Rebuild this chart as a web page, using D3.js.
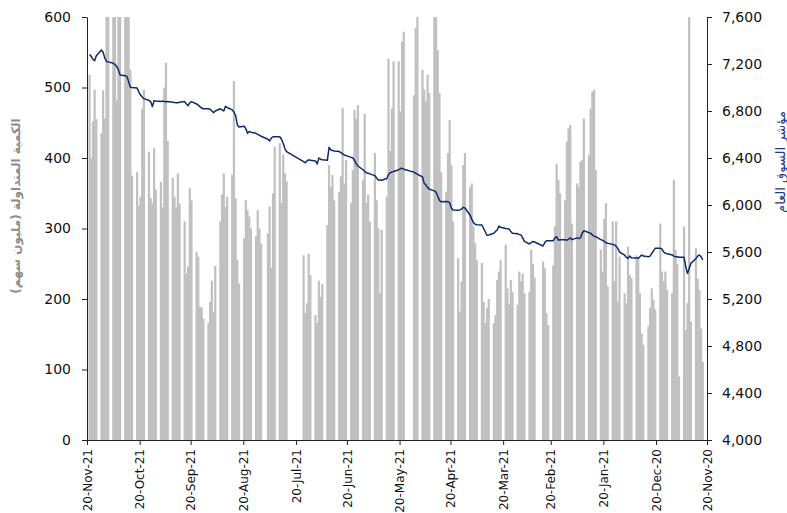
<!DOCTYPE html>
<html><head><meta charset="utf-8">
<script src="https://cdnjs.cloudflare.com/ajax/libs/d3/7.8.5/d3.min.js"></script>
<style>body{margin:0;background:#fff}svg{display:block}</style>
</head><body>
<svg id="chart" width="787" height="513"></svg>
<script>
// ---------- data (newest session first, as drawn left to right) ----------
// Trading weeks run Sun-Thu; each group of five is Thu, Wed, Tue, Mon, Sun. null = market holiday.
const lastSession = "18-Nov-21";
const tickLabels = ["20-Nov-21","20-Oct-21","20-Sep-21","20-Aug-21","20-Jul-21","20-Jun-21","20-May-21",
  "20-Apr-21","20-Mar-21","20-Feb-21","20-Jan-21","20-Dec-20","20-Nov-20"];
const volumeTicks = [0,100,200,300,400,500,600];
const indexTicks = [4000,4400,4800,5200,5600,6000,6400,6800,7200,7600];
const volumeTitle = "الكمية المتداولة (مليون سهم)";
const indexTitle = "مؤشر السوق العام";

const volume = [
  518,400,452,497,455, 435,496,456,640,620, 650,620,482,700,660, 650,640,610,525,375,
  380,332,345,470,497, 409,343,336,414,355, 366,330,500,535,424, 372,345,330,378,335,
  310,236,246,357,340, 267,260,189,188,172, 166,196,226,182,247, 310,348,378,331,345,
  376,509,343,256,222, 286,340,326,317,300, 289,326,300,279,null, 293,331,244,350,416,
  421,336,405,378,367, null,null,null,null,null, 262,180,194,264,234, 177,166,226,203,221,
  305,390,359,376,340, 352,374,471,364,397, 336,383,468,456,475, 369,463,336,348,310,
  407,340,300,208,298, 345,541,410,470,537, 537,466,565,579,null, null,null,489,584,600,
  525,497,480,518,492, 620,605,553,492,380, 352,407,454,390,310, 258,182,225,390,407,
  359,364,303,279,255, 251,196,166,187,200, 166,177,227,239,255, 277,215,192,227,210,
  192,239,225,236,208, 210,270,250,230,null, null,253,244,180,163, 248,303,392,369,350,
  340,423,442,447,307, 364,359,395,397,456, 404,470,494,497,383, 270,239,314,336,218,
  310,225,310,196,260, 208,194,274,234,230, 262,258,208,151,135, 161,187,215,199,185,
  307,239,225,239,213, 208,369,270,250,90, 303,156,194,650,168, 272,229,213,158,111
];

const indexValues = [
  7280,7265,7240,7228,7270, 7319,7300,7250,7222,7218, 7206,7195,7180,7150,7107, 7100,7095,7050,7002,7000,
  6995,6960,6936,6920,6905, 6890,6880,6837,6888,6885, 6880,6885,6880,6878,6880, 6875,6872,6870,6871,6875,
  6880,6860,6845,6870,6880, 6860,6850,6837,6825,6819, 6819,6815,6800,6786,6800, 6819,6810,6800,6840,6830,
  6810,6790,6760,6681,6664, 6670,6650,6610,6625,6620, 6610,6600,6595,6585,null, 6560,6545,6570,6581,6580,
  6581,6560,6525,6480,6454, null,null,null,null,null, 6370,6360,6375,6385,6380, 6375,6349,6400,6390,6385,
  6380,6491,6470,6463,6460, 6455,6445,6435,6425,6420, 6405,6400,6380,6350,6332, 6300,6285,6275,6270,6265,
  6250,6230,6213,6213,6210, 6225,6260,6275,6280,6285, 6300,6310,6312,6305,null, null,null,6280,6270,6262,
  6240,6185,6170,6150,6135, 6120,6110,6075,6040,6028, 6030,6028,6020,5975,5958, 5955,5958,5965,5980,5975,
  5915,5880,5850,5836,5832, 5830,5800,5770,5742,5745, 5760,5775,5787,5821,5810, 5800,5798,5795,5775,5759,
  5755,5748,5745,5720,5690, 5668,5680,5690,5685,null, null,5651,5680,5696,5695, 5696,5720,5730,5700,5705,
  5705,5700,5710,5720,5705, 5720,5715,5720,5760,5781, 5765,5760,5745,5735,5730, 5705,5700,5690,5680,5674,
  5665,5660,5650,5631,5600, 5574,5555,5546,5566,5550, 5548,5546,5560,5575,5565, 5560,5565,5589,5610,5631,
  5631,5625,5600,5589,5585, 5575,5565,5560,5560,5555, 5555,5475,5418,5460,5503, 5545,5565,5575,5560,5532
];

// ---------- build ----------
const parse = d3.timeParse("%d-%b-%y");
const last = parse(lastSession);
const rows = volume.map((v, i) => ({
  date: d3.timeDay.offset(last, -(7 * Math.floor(i / 5) + (i % 5))),
  vol: v, idx: indexValues[i]
}));
const tickDates = tickLabels.map(parse);

const L = 87, R = 707, T = 17, B = 440;
const FONT = "DejaVu Sans, Verdana, sans-serif";
const svg = d3.select("#chart");

const x = d3.scaleTime().domain([tickDates[0], tickDates[tickDates.length - 1]]).range([L, R]);
const yV = d3.scaleLinear().domain([0, 600]).range([B, T]);
const yI = d3.scaleLinear().domain([4000, 7600]).range([B, T]);
const dayW = Math.abs(x(d3.timeDay.offset(tickDates[0], -1)) - x(tickDates[0]));
const barW = dayW * 1.3;
const cx = d => x(d3.timeHour.offset(d, 12));

svg.append("defs").append("clipPath").attr("id", "plot")
  .append("rect").attr("x", L).attr("y", T).attr("width", R - L).attr("height", B - T);

svg.append("g").attr("clip-path", "url(#plot)")
  .selectAll("rect").data(rows.filter(r => r.vol != null)).join("rect")
  .attr("x", r => cx(r.date) - barW / 2)
  .attr("width", barW)
  .attr("y", r => yV(r.vol))
  .attr("height", r => B - yV(r.vol))
  .attr("fill", "#c0c0c0");

const line = d3.line().x(r => cx(r.date)).y(r => yI(r.idx));
svg.append("path").datum(rows.filter(r => r.idx != null))
  .attr("d", line).attr("fill", "none")
  .attr("stroke", "#0e2a6e").attr("stroke-width", 1.5).attr("stroke-linejoin", "round");

// axes
const axL = svg.append("g").attr("transform", `translate(${L},0)`)
  .call(d3.axisLeft(yV).tickValues(volumeTicks).tickSize(5).tickSizeOuter(0).tickPadding(11));
const axR = svg.append("g").attr("transform", `translate(${R},0)`)
  .call(d3.axisRight(yI).tickValues(indexTicks).tickFormat(d3.format(",")).tickSize(5).tickSizeOuter(0).tickPadding(10));
const axB = svg.append("g").attr("transform", `translate(0,${B})`)
  .call(d3.axisBottom(x).tickValues(tickDates).tickFormat((d, i) => tickLabels[i]).tickSize(5).tickSizeOuter(0));

[axL, axR, axB].forEach(g => {
  g.select(".domain").attr("stroke", "#222");
  g.selectAll(".tick line").attr("stroke", "#222");
  g.selectAll("text").attr("fill", "#111").attr("font-family", FONT);
});
axL.selectAll("text").attr("font-size", 14);
axR.selectAll("text").attr("font-size", 14);
axB.selectAll("text").attr("font-size", 12)
  .attr("transform", "rotate(-90)").attr("text-anchor", "end")
  .attr("x", -9).attr("y", 0).attr("dy", "0.35em");

// titles
svg.append("text").attr("transform", "translate(20,206) rotate(-90)")
  .attr("text-anchor", "middle").attr("font-family", FONT).attr("font-size", 12).attr("font-weight", "bold")
  .attr("fill", "#8c8c8c").text(volumeTitle);
svg.append("text").attr("transform", "translate(785,162) rotate(-90)")
  .attr("text-anchor", "middle").attr("font-family", FONT).attr("font-size", 13)
  .attr("fill", "#1f3c88").text(indexTitle);
</script>
</body></html>
